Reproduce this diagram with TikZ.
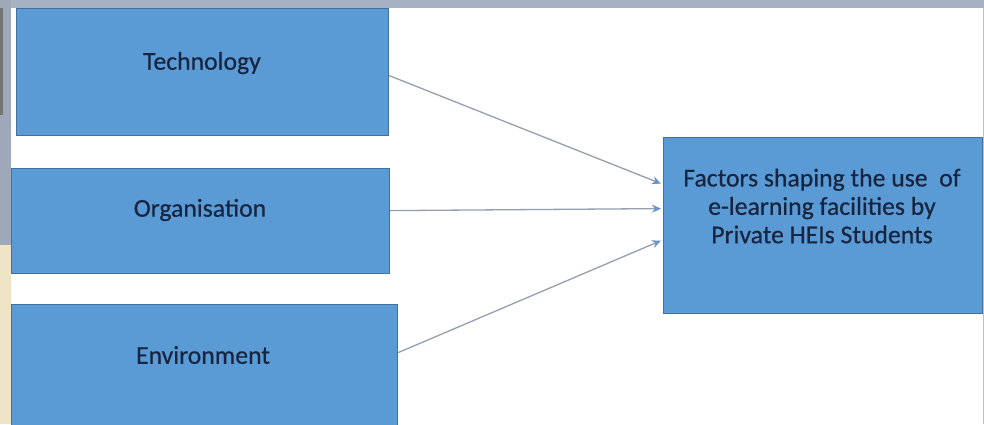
\documentclass[tikz,border=0pt]{standalone}
\usepackage{fontspec}
\setmainfont{Carlito}
\newfontfamily\labelfont[FakeBold=0.5]{Carlito}
\usetikzlibrary{arrows.meta,calc}

\definecolor{boxfill}{HTML}{5B9BD5}
\definecolor{boxline}{HTML}{41719C}
\definecolor{boxtext}{HTML}{172540}
\definecolor{arrowline}{HTML}{959FB0}
\definecolor{arrowtip}{HTML}{6A93C8}
\definecolor{slatebar}{HTML}{A6B1C3}
\definecolor{sandstrip}{HTML}{EFE5C6}

\tikzset{
  factorbox/.style={draw=boxline, line width=1.2pt, fill=boxfill,
    anchor=north west, inner sep=0pt},
  boxlabel/.style={text=boxtext, align=center,
    font=\labelfont\fontsize{25.7}{28.4}\selectfont},
  link/.style={draw=arrowline, line width=1.3pt,
    -{Stealth[length=9pt,width=8pt,fill=arrowtip,color=arrowtip]}}
}

\begin{document}
\begin{tikzpicture}[x=1pt,y=-1pt]
  \useasboundingbox (0,0) rectangle (984,424);
  \clip (0,0) rectangle (984,424);

  % slide frame behind the diagram
  \fill[white] (0,0) rectangle (984,424);
  \fill[slatebar] (0,0) rectangle (984,8);
  \fill[slatebar!95!black] (0,0) rectangle (11,245);
  \fill[sandstrip] (0,245) rectangle (11,424);
  \fill[black!55] (0,8) rectangle (3,115);
  \fill[black!25] (982.5,8) rectangle (984,424);

  % factor boxes
  \node[factorbox, minimum width=372pt, minimum height=127pt] (tech) at (16,8) {};
  \node[boxlabel] (techlabel) at (202,63) {Technology};

  \node[factorbox, minimum width=378pt, minimum height=105pt] (org) at (11,168) {};
  \node[boxlabel] (orglabel) at (200,210) {Organisation};

  \node[factorbox, minimum width=386pt, minimum height=130pt] (env) at (11,304) {};
  \node[boxlabel] (envlabel) at (203,355) {Environment};

  % outcome box
  \node[factorbox, minimum width=319pt, minimum height=176pt] (target) at (663,137) {};
  \node[boxlabel] (targetlabel) at (822,206)
    {Factors shaping the use \ of\\e-learning facilities by\\Private HEIs Students};

  % influences
  \draw[link] ($(tech.east)+(0,3.5)$) -- ($(target.west)+(-2,-42)$);
  \draw[link] ($(org.east)+(0,-10.5)$) -- ($(target.west)+(-2,-17)$);
  \draw[link] ($(env.east)+(0,-17)$) -- ($(target.west)+(-2,15)$);
\end{tikzpicture}
\end{document}
